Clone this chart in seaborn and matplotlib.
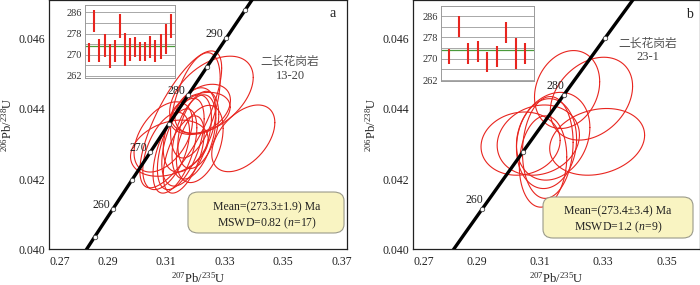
import numpy as np
import pandas as pd
import matplotlib
matplotlib.use("Agg")
import matplotlib.pyplot as plt
import seaborn as sns
from matplotlib.patches import FancyBboxPatch

# ---------------- data: panel a (sample 13-20) ----------------
a_cx = [0.3150, 0.3255, 0.3364, 0.3111, 0.3200, 0.3216, 0.3225, 0.3100, 0.3170,
        0.3195, 0.3150, 0.3210, 0.3180, 0.3130, 0.3215, 0.3160, 0.3090]
a_cy = [0.04370, 0.04440, 0.04316, 0.04288, 0.04410, 0.04387, 0.04400, 0.04280, 0.04310,
        0.04320, 0.04300, 0.04340, 0.04340, 0.04280, 0.04300, 0.04270, 0.04320]
a_sx = [0.0140, 0.0143, 0.0108, 0.0133, 0.0085, 0.0103, 0.0095, 0.0080, 0.0085,
        0.0075, 0.0080, 0.0070, 0.0090, 0.0075, 0.0080, 0.0070, 0.0100]
a_sy = [0.00195, 0.00110, 0.00095, 0.00080, 0.00150, 0.00060, 0.00070, 0.00110, 0.00130,
        0.00120, 0.00130, 0.00110, 0.00120, 0.00120, 0.00110, 0.00110, 0.00100]
a_rho = [0.75, 0.45, 0.47, 0.30, 0.50, 0.30, 0.35, 0.50, 0.50,
         0.45, 0.55, 0.40, 0.45, 0.55, 0.40, 0.55, 0.45]
a_age_hi = [274.3, 286.9, 275.9, 277.7, 273.9, 275.6, 285.4, 278.1, 276.2,
            276.8, 274.9, 274.9, 277.1, 275.6, 277.8, 281.6, 285.4]
a_age_lo = [267.4, 278.7, 267.1, 269.3, 264.9, 267.4, 276.2, 265.8, 267.6,
            269.3, 267.6, 267.8, 268.7, 267.1, 268.4, 270.2, 276.2]
a_mean = 273.3
a_markers = [255, 260, 265, 270, 275, 280, 285, 290, 295]
a_labels = [260, 270, 280, 290]
a_rock = "二长花岗岩"
a_sample = "13-20"
a_stat1 = "Mean=(273.3±1.9) Ma"
a_stat2 = r"MSWD=0.82 ($n$=17)"

# ---------------- data: panel b (sample 23-1) ----------------
b_cx = [0.3186, 0.3263, 0.3281, 0.3039, 0.3095, 0.3121, 0.3125, 0.3110, 0.3142]
b_cy = [0.04455, 0.04429, 0.04306, 0.04301, 0.04311, 0.04301, 0.04290, 0.04250, 0.04322]
b_sx = [0.0103, 0.0130, 0.0150, 0.0125, 0.0130, 0.0095, 0.0080, 0.0075, 0.0116]
b_sy = [0.00111, 0.00118, 0.00095, 0.0009, 0.0010, 0.00128, 0.00145, 0.0013, 0.00125]
b_rho = [0.2, 0.3, 0.2, 0.1, 0.15, 0.1, 0.1, 0.1, 0.2]
b_age_hi = [273.5, 286.0, 275.75, 276.75, 272.6, 274.75, 283.9, 277.6, 275.75]
b_age_lo = [267.9, 278.0, 267.9, 268.9, 264.9, 267.0, 276.0, 266.0, 267.9]
b_mean = 273.4
b_markers = [260, 270, 280, 290]
b_labels = [260, 280]
b_rock = "二长花岗岩"
b_sample = "23-1"
b_stat1 = "Mean=(273.4±3.4) Ma"
b_stat2 = r"MSWD=1.2 ($n$=9)"

x_ticks_a = [0.27, 0.29, 0.31, 0.33, 0.35, 0.37]
x_ticks_b = [0.27, 0.29, 0.31, 0.33, 0.35]
y_ticks = [0.040, 0.042, 0.044, 0.046]
inset_ticks = [262, 270, 278, 286]

# decay constants (per year) defining the concordia
L238 = 1.55125e-10
L235 = 9.8485e-10

RED = "#e8251f"

sns.set_theme(style="white")
plt.rcParams["font.family"] = ["Liberation Serif", "Noto Sans CJK SC"]
plt.rcParams["mathtext.fontset"] = "custom"
plt.rcParams["mathtext.rm"] = "Liberation Serif"
plt.rcParams["mathtext.it"] = "Liberation Serif:italic"
plt.rcParams["axes.edgecolor"] = "#222222"

fig = plt.figure(figsize=(7.0, 2.85), dpi=100)
W, H = 700.0, 285.0


def ax_rect(x0, y0, x1, y1):
    return [x0 / W, 1 - y1 / H, (x1 - x0) / W, (y1 - y0) / H]


def ellipse_frame(cx, cy, sx, sy, rho):
    th = np.linspace(0, 2 * np.pi, 181)
    rows = []
    for i in range(len(cx)):
        ex = cx[i] + sx[i] * np.cos(th)
        ey = cy[i] + sy[i] * (rho[i] * np.cos(th) + np.sqrt(1 - rho[i] ** 2) * np.sin(th))
        rows.append(pd.DataFrame({"x": ex, "y": ey, "id": i}))
    return pd.concat(rows, ignore_index=True)


def concordia(ages):
    t = np.asarray(ages, float) * 1e6
    return np.exp(L235 * t) - 1, np.exp(L238 * t) - 1


def panel(rect, xlim, xticks, cx, cy, sx, sy, rho, markers, labels, lab_off,
          rock, sample, rock_xy, letter, letter_xy, stats, box, stat_x, stat_y):
    ax = fig.add_axes(rect)
    # concordia
    tt = np.linspace(230, 320, 400)
    cxx, cyy = concordia(tt)
    sns.lineplot(x=cxx, y=cyy, sort=False, color="black", lw=2.4, ax=ax, zorder=3)
    mx, my = concordia(markers)
    ax.plot(mx, my, ls="none", marker="o", ms=3.2, mfc="white", mec="#444444",
            mew=0.6, zorder=4)
    lx, ly = concordia(labels)
    for a, px, py in zip(labels, lx, ly):
        ax.annotate(str(a), (px, py), xytext=lab_off, textcoords="offset pixels",
                    ha="right", va="center", fontsize=8.5, color="#222222", zorder=5)
    # ellipses
    df = ellipse_frame(cx, cy, sx, sy, rho)
    sns.lineplot(data=df, x="x", y="y", units="id", estimator=None, sort=False,
                 color=RED, lw=0.8, ax=ax, legend=False, zorder=2)
    ax.set_xlim(*xlim)
    ax.set_ylim(0.040, 0.0471)
    ax.set_xticks(xticks, [f"{v:.2f}" for v in xticks])
    ax.set_yticks(y_ticks, [f"{v:.3f}" for v in y_ticks])
    ax.get_xticklabels()[0].set_horizontalalignment("left")
    ax.tick_params(axis="both", direction="in", length=2, width=0.6,
                   labelsize=8.5, colors="#222222")
    ax.tick_params(axis="x", pad=5)
    ax.tick_params(axis="y", pad=3)
    ax.set_xlabel(r"$^{207}$Pb/$^{235}$U", fontsize=9, labelpad=2, color="#222222")
    ax.set_ylabel(r"$^{206}$Pb/$^{238}$U", fontsize=9, labelpad=3, color="#222222")
    for s in ax.spines.values():
        s.set_linewidth(0.9)
    ax.text(rock_xy[0], rock_xy[1], rock, transform=ax.transAxes, ha="center",
            va="center", fontsize=8.5, color="#555555",
            family=["Noto Sans CJK SC", "DejaVu Sans"])
    ax.text(rock_xy[0], rock_xy[1] - 0.055, sample, transform=ax.transAxes,
            ha="center", va="center", fontsize=9, color="#444444")
    ax.text(letter_xy[0], letter_xy[1], letter, transform=ax.transAxes,
            ha="center", va="center", fontsize=10, color="#222222")
    bx0, by0, bx1, by1 = box
    patch = FancyBboxPatch((bx0, by0), bx1 - bx0, by1 - by0,
                           boxstyle="round,pad=0,rounding_size=0.035",
                           transform=ax.transAxes, facecolor="#f9f4c2",
                           edgecolor="#9a9a8a", lw=0.8, zorder=6)
    ax.add_patch(patch)
    ax.text(stat_x, stat_y[0], stats[0], transform=ax.transAxes, ha="center",
            va="center", fontsize=8.5, color="#222222", zorder=7)
    ax.text(stat_x, stat_y[1], stats[1], transform=ax.transAxes, ha="center",
            va="center", fontsize=8.5, color="#222222", zorder=7)
    return ax


def inset(rect, hi, lo, mean, ylim, xlim):
    ai = fig.add_axes(rect)
    ai.set_facecolor("white")
    xs = np.arange(1, len(hi) + 1)
    ai.set_ylim(*ylim)
    ai.set_xlim(*xlim)
    for g in range(262, 287, 4):
        ai.axhline(g, color="#a8a8a8", lw=0.7, zorder=1)
    ai.axhline(mean, color="#4a9a3a", lw=0.9, zorder=2)
    ai.vlines(xs, lo, hi, color=RED, lw=1.5, zorder=3)
    ai.set_yticks(inset_ticks, [str(v) for v in inset_ticks])
    ai.set_xticks([])
    ai.tick_params(axis="y", length=0, pad=2, labelsize=7.5, colors="#333333")
    ai.grid(False)
    for s in ai.spines.values():
        s.set_color("#9a9a9a")
        s.set_linewidth(0.7)
    return ai


ax_a = panel(ax_rect(49.3, 0.0, 347.3, 249.3), (0.27, 0.372), x_ticks_a,
             a_cx, a_cy, a_sx, a_sy, a_rho, a_markers, a_labels, (-3, 4),
             a_rock, a_sample, (0.808, 0.752), "a", (0.952, 0.944),
             (a_stat1, a_stat2), (0.4654, 0.0654, 0.989, 0.2298), 0.73,
             (0.170, 0.106))
inset(ax_rect(85, 5, 175, 78.3), a_age_hi, a_age_lo, a_mean, (261.1, 288.8),
      (0.15, 17.85))

ax_b = panel(ax_rect(413.3, 0.0, 700.0, 249.3), (0.27, 0.3606), x_ticks_b,
             b_cx, b_cy, b_sx, b_sy, b_rho, b_markers, b_labels, (1, 9),
             b_rock, b_sample, (0.818, 0.828), "b", (0.965, 0.94),
             (b_stat1, b_stat2), (0.4524, 0.0453, 0.9756, 0.2098), 0.714,
             (0.154, 0.090))
inset(ax_rect(440.7, 5.7, 534, 80.7), b_age_hi, b_age_lo, b_mean, (261.75, 289.9),
      (0.07, 9.95))

fig.savefig("out.png", dpi=100)
